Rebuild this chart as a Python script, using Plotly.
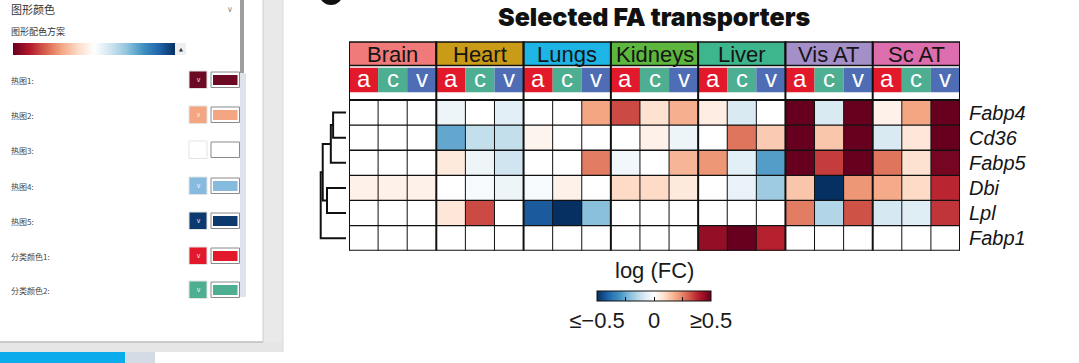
import plotly.graph_objects as go

W, H = 1079, 363

# ---------------- data ----------------
genes = ["Fabp4", "Cd36", "Fabp5", "Dbi", "Lpl", "Fabp1"]
tissues = ["Brain", "Heart", "Lungs", "Kidneys", "Liver", "Vis AT", "Sc AT"]
tissue_colors = ["#EF7A79", "#C99B16", "#1DB5E6", "#5DB73E", "#3DB58D", "#A58FC9", "#DC6EAE"]
vessels = ["a", "c", "v"]
vessel_colors = ["#E2192B", "#4DAE91", "#4E6DB5"]

# log(FC); columns: Brain a,c,v | Heart | Lungs | Kidneys | Liver | Vis AT | Sc AT
fabp4 = [0.00, 0.00, 0.00, -0.04, 0.00, -0.06, 0.00, 0.00, 0.20, 0.33, 0.08, 0.18,
         0.05, -0.08, 0.00, 0.55, -0.08, 0.55, 0.04, 0.20, 0.55]
cd36 = [0.00, 0.00, 0.00, -0.26, -0.12, -0.12, 0.03, 0.00, 0.00, 0.00, 0.04, -0.04,
        0.00, 0.27, 0.13, 0.55, 0.14, 0.55, -0.08, 0.07, 0.55]
fabp5 = [0.00, 0.00, 0.00, 0.06, -0.04, -0.10, 0.00, 0.00, 0.26, -0.03, 0.00, 0.17,
         0.22, -0.06, -0.28, 0.55, 0.35, 0.55, 0.27, 0.08, 0.48]
dbi = [0.04, 0.04, 0.04, 0.00, -0.02, -0.04, -0.02, 0.04, 0.00, 0.10, 0.10, 0.06,
       0.00, -0.05, -0.18, 0.14, -0.55, 0.22, 0.19, 0.10, 0.38]
lpl = [0.00, 0.00, 0.00, 0.07, 0.33, 0.00, -0.42, -0.50, -0.21, 0.00, 0.00, 0.00,
       0.00, 0.00, 0.00, 0.26, -0.15, 0.32, -0.09, -0.07, 0.36]
fabp1 = [0.00, 0.00, 0.00, 0.00, 0.00, 0.00, 0.00, 0.00, 0.00, 0.00, 0.00, 0.00,
         0.44, 0.50, 0.39, 0.00, 0.00, 0.00, 0.00, 0.00, 0.00]

# hierarchical clustering of genes: (child_a, child_b, height); leaves 0..5, clusters 6..
dendro_merges = [(0, 1, 0.51), (6, 2, 0.60), (3, 4, 0.75), (7, 8, 0.92), (9, 5, 1.00)]

cbar_tickvals = [-0.5, -0.25, 0, 0.25, 0.5]
cbar_ticktext = ["≤−0.5", "", "0", "", "≥0.5"]

rdbu = ["#053061", "#2166ac", "#4393c3", "#92c5de", "#d1e5f0", "#ffffff",
        "#fddbc7", "#f4a582", "#d6604d", "#b2182b", "#67001f"]

# settings panel (UI) content
panel_labels = ["热图1:", "热图2:", "热图3:", "热图4:", "热图5:", "分类颜色1:", "分类颜色2:"]
panel_colors = ["#6B0A22", "#F4A582", "#FFFFFF", "#86BADF", "#0C3A6E", "#E2192B", "#4DAE91"]

# ---------------- layout constants ----------------
GRID_L, GRID_R = 349, 960
GRID_T, GRID_B = 100, 250.7
HEAD_T = 40
n_rows = len(genes)
n_cols = len(tissues) * len(vessels)
rh = (GRID_B - GRID_T) / n_rows


def ry(py):
    return -0.5 + (py - GRID_T) / rh


z = [fabp4, cd36, fabp5, dbi, lpl, fabp1]
colorscale = [[i / (len(rdbu) - 1), c] for i, c in enumerate(rdbu)]

fig = go.Figure()

fig.add_trace(go.Heatmap(
    z=z, x=list(range(n_cols)), y=list(range(n_rows)),
    zmin=-0.5, zmax=0.5, colorscale=colorscale, hoverinfo="skip",
    colorbar=dict(
        orientation="h", x=654 / W, xanchor="center", y=1 - 291 / H, yanchor="top",
        len=114, lenmode="pixels", thickness=10, outlinewidth=1, outlinecolor="#111",
        tickvals=cbar_tickvals, ticktext=cbar_ticktext, ticks="inside", ticklen=4,
        tickcolor="#111", tickfont=dict(size=22, color="#1a1a1a", family="Liberation Sans"),
        xpad=0, ypad=0,
    ),
))

# dendrogram
pos = {i: (float(i), 0.0) for i in range(n_rows)}
dx, dy = [], []
for k, (a, b, h) in enumerate(dendro_merges):
    ya, ha = pos[a]
    yb, hb = pos[b]
    dx += [ha, h, h, hb, None]
    dy += [ya, ya, yb, yb, None]
    pos[n_rows + k] = ((ya + yb) / 2, h)
fig.add_trace(go.Scatter(x=dx, y=dy, mode="lines", xaxis="x2", yaxis="y",
                         line=dict(color="#111", width=2), hoverinfo="skip", showlegend=False))

# settings-panel gradient bar (pixel overlay axes)
fig.add_trace(go.Scatter(
    x=[13, 175, 175, 13, 13], y=[43, 43, 55, 55, 43], xaxis="x3", yaxis="y3",
    mode="lines", fill="toself", line=dict(width=0),
    fillgradient=dict(type="horizontal", colorscale=[[i / (len(rdbu) - 1), c] for i, c in enumerate(rdbu[::-1])]),
    hoverinfo="skip", showlegend=False))

unit = 25.3
ax_off = dict(showticklabels=False, showgrid=False, zeroline=False, showline=False, ticks="")
fig.update_layout(
    width=W, height=H,
    margin=dict(l=0, r=0, t=0, b=0, autoexpand=False),
    paper_bgcolor="white", plot_bgcolor="rgba(0,0,0,0)",
    showlegend=False,
    font=dict(family="Liberation Sans", color="#1a1a1a"),
    xaxis=dict(domain=[GRID_L / W, GRID_R / W], range=[-0.5, n_cols - 0.5], anchor="y", **ax_off),
    yaxis=dict(domain=[1 - GRID_B / H, 1 - HEAD_T / H], range=[n_rows - 0.5, ry(HEAD_T)], anchor="x", **ax_off),
    xaxis2=dict(domain=[(346 - 28) / W, 347 / W], range=[28 / unit, -1 / unit], anchor="y", **ax_off),
    xaxis3=dict(domain=[0, 1], range=[0, W], anchor="y3", **ax_off),
    yaxis3=dict(domain=[0, 1], range=[H, 0], anchor="x3", **ax_off),
)

shapes = []
ann = []

# header rows
TIS_T, TIS_B = 42, 65.5
ACV_T, ACV_B = 67.8, 92.3
for g, (t, col) in enumerate(zip(tissues, tissue_colors)):
    x0, x1 = 3 * g - 0.5, 3 * g + 2.5
    shapes.append(dict(type="rect", xref="x", yref="y", x0=x0, x1=x1, y0=ry(TIS_T), y1=ry(TIS_B),
                       fillcolor=col, line=dict(color="#111", width=1.5)))
    ann.append(dict(xref="x", yref="y", x=3 * g + 1, y=ry((TIS_T + TIS_B) / 2 + 0.5), text=t, showarrow=False,
                    yanchor="middle", font=dict(size=22, color="#151515", family="Liberation Sans")))
    for j, (v, vc) in enumerate(zip(vessels, vessel_colors)):
        c = 3 * g + j
        shapes.append(dict(type="rect", xref="x", yref="y", x0=c - 0.5, x1=c + 0.5, y0=ry(ACV_T), y1=ry(ACV_B),
                           fillcolor=vc, line=dict(width=0)))
        ann.append(dict(xref="x", yref="y", x=c, y=ry((ACV_T + ACV_B) / 2 - 1.5), text=v, showarrow=False,
                        yanchor="middle", font=dict(size=24, color="white", family="Liberation Sans")))

# grid lines
for k in range(n_rows + 1):
    w = 2 if k in (0, n_rows) else 1.3
    shapes.append(dict(type="line", xref="x", yref="y", x0=-0.5, x1=n_cols - 0.5, y0=k - 0.5, y1=k - 0.5,
                       line=dict(color="#111", width=w)))
for j in range(n_cols + 1):
    if j % 3 == 0:
        shapes.append(dict(type="line", xref="x", yref="y", x0=j - 0.5, x1=j - 0.5, y0=ry(TIS_T), y1=n_rows - 0.5,
                           line=dict(color="#111", width=2)))
    else:
        shapes.append(dict(type="line", xref="x", yref="y", x0=j - 0.5, x1=j - 0.5, y0=-0.5, y1=n_rows - 0.5,
                           line=dict(color="#111", width=1)))

# gene labels
for i, gname in enumerate(genes):
    ann.append(dict(xref="paper", yref="y", x=967 / W, y=i, xanchor="left", yanchor="middle",
                    text=gname, showarrow=False,
                    font=dict(size=20, style="italic", color="#151515", family="Liberation Sans")))

# title and colorbar title
ann.append(dict(xref="paper", yref="paper", x=654 / W, y=1 - 17 / H, xanchor="center", yanchor="middle",
                text="Selected FA transporters", showarrow=False,
                font=dict(size=25, weight=900, family="Inter", color="#111")))
ann.append(dict(xref="paper", yref="paper", x=654 / W, y=1 - 270 / H, xanchor="center", yanchor="middle",
                text="log (FC)", showarrow=False,
                font=dict(size=22, color="#1a1a1a", family="Liberation Sans")))

# partial panel-letter circle at top
shapes.append(dict(type="circle", xref="x3", yref="y3", x0=319, x1=343, y0=-19, y1=5,
                   fillcolor="#111", line=dict(width=0)))

# ---------------- settings panel (UI) ----------------
shapes += [
    dict(type="rect", xref="x3", yref="y3", x0=263, x1=283, y0=0, y1=352, fillcolor="#E9E9E9",
         line=dict(width=0), layer="below"),
    dict(type="rect", xref="x3", yref="y3", x0=0, x1=283, y0=342, y1=352, fillcolor="#E6E6E6",
         line=dict(width=0), layer="below"),
    dict(type="line", xref="x3", yref="y3", x0=0, x1=263, y0=342, y1=342, line=dict(color="#BDBDBD", width=1.5)),
    dict(type="line", xref="x3", yref="y3", x0=263, x1=263, y0=0, y1=342, line=dict(color="#CFCFCF", width=1)),
    dict(type="line", xref="x3", yref="y3", x0=283, x1=283, y0=0, y1=352, line=dict(color="#DADADA", width=1)),
    dict(type="rect", xref="x3", yref="y3", x0=0, x1=125, y0=352, y1=364, fillcolor="#0BABEC", line=dict(width=0)),
    dict(type="rect", xref="x3", yref="y3", x0=125, x1=155, y0=352, y1=364, fillcolor="#D3DCE5", line=dict(width=0)),
    # scrollbar
    dict(type="rect", xref="x3", yref="y3", x0=240, x1=246, y0=73, y1=297, fillcolor="#DDE4EB", line=dict(width=0)),
    dict(type="rect", xref="x3", yref="y3", x0=240, x1=244, y0=0, y1=73, fillcolor="#9E9E9E", line=dict(width=0)),
    # gradient dropdown end
    dict(type="rect", xref="x3", yref="y3", x0=175, x1=186, y0=43, y1=55, fillcolor="#EFEFEF", line=dict(width=0)),
]
ann += [
    dict(xref="x3", yref="y3", x=9, y=9, xanchor="left", yanchor="middle", text="图形颜色", showarrow=False,
         font=dict(size=11, color="#333", family="Noto Sans CJK SC")),
    dict(xref="x3", yref="y3", x=230, y=9, xanchor="center", yanchor="middle", text="∨", showarrow=False,
         font=dict(size=8, color="#888", family="DejaVu Sans")),
    dict(xref="x3", yref="y3", x=9, y=31, xanchor="left", yanchor="middle", text="图形配色方案", showarrow=False,
         font=dict(size=9, color="#333", family="Noto Sans CJK SC")),
    dict(xref="x3", yref="y3", x=180.5, y=49, xanchor="center", yanchor="middle", text="▲", showarrow=False,
         font=dict(size=5, color="#333", family="DejaVu Sans")),
]
row_centers = [80, 115, 150, 186, 221, 256, 290]
for lab, col, yc in zip(panel_labels, panel_colors, row_centers):
    ann.append(dict(xref="x3", yref="y3", x=9, y=yc, xanchor="left", yanchor="middle", text=lab, showarrow=False,
                    font=dict(size=8, color="#444", family="Noto Sans CJK SC")))
    shapes.append(dict(type="rect", xref="x3", yref="y3", x0=189, x1=207, y0=yc - 9, y1=yc + 8.5,
                       fillcolor=col, line=dict(color="#E3E3E3", width=1)))
    ann.append(dict(xref="x3", yref="y3", x=198, y=yc, xanchor="center", yanchor="middle", text="∨", showarrow=False,
                    font=dict(size=7, color="rgba(255,255,255,0.85)", family="DejaVu Sans")))
    shapes.append(dict(type="rect", xref="x3", yref="y3", x0=211, x1=239.5, y0=yc - 8, y1=yc + 7.5,
                       fillcolor="white", line=dict(color="#8A8A8A", width=1)))
    shapes.append(dict(type="rect", xref="x3", yref="y3", x0=213, x1=237.5, y0=yc - 5, y1=yc + 5,
                       fillcolor=col, line=dict(width=0)))

fig.update_layout(shapes=shapes, annotations=ann)
fig.write_html("out.html", config={"displayModeBar": False, "staticPlot": True},
               post_script="document.body.style.margin='0px';document.body.style.overflow='hidden';")
